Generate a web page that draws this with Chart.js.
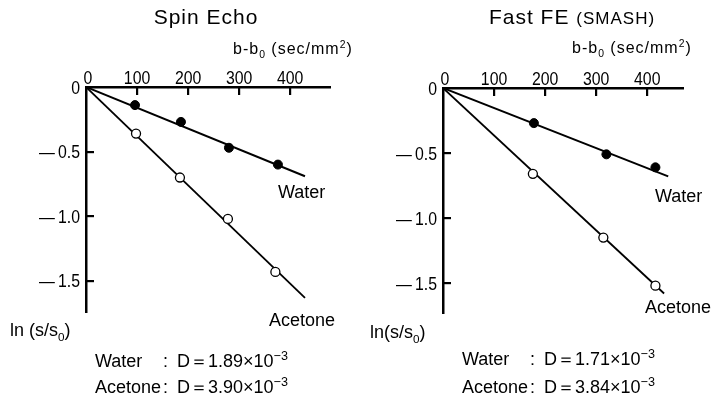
<!DOCTYPE html>
<html>
<head>
<meta charset="utf-8">
<script src="https://cdn.jsdelivr.net/npm/chart.js@4.4.0/dist/chart.umd.min.js"></script>
<style>
  body { margin: 0; background: #fff; }
  #wrap { position: relative; width: 718px; height: 407px; overflow: hidden;
          font-family: "Liberation Sans", Arial, sans-serif; color: #000; }
  canvas { position: absolute; top: 0; }
  .t { position: absolute; white-space: nowrap; line-height: 1; transform: translateY(-50%); }
  .c { transform: translate(-50%, -50%); }
  .title { font-size: 21px; letter-spacing: 1px; }
  .unit { font-size: 16px; letter-spacing: 1px; }
  .name { font-size: 18px; }
  .eq { font-size: 18px; }
  .eq .n { display: inline-block; width: 68px; }
  .eq .col { display: inline-block; width: 14px; }
  sub, sup { font-size: 65%; line-height: 0; }
  .eq sup { font-size: 70%; vertical-align: 0.55em; }
</style>
</head>
<body>
<div id="wrap">
  <canvas id="spinEcho" width="359" height="407" style="left:0"></canvas>
  <canvas id="fastFE" width="359" height="407" style="left:359px"></canvas>

  <div class="t c title" style="left:206px; top:16px">Spin Echo</div>
  <div class="t c title" style="left:572px; top:16px">Fast FE <span style="font-size:17px">(SMASH)</span></div>

  <div class="t unit" style="left:233px; top:49px">b-b<sub>0</sub> (sec/mm<sup>2</sup>)</div>
  <div class="t unit" style="left:572px; top:48px">b-b<sub>0</sub> (sec/mm<sup>2</sup>)</div>

  <div class="t name" style="left:278px; top:192px">Water</div>
  <div class="t name" style="left:269px; top:320px">Acetone</div>
  <div class="t name" style="left:655px; top:196px">Water</div>
  <div class="t name" style="left:645px; top:307px">Acetone</div>

  <div class="t name" style="left:10px; top:330px">ln (s/s<sub>0</sub>)</div>
  <div class="t name" style="left:370px; top:332px">ln(s/s<sub>0</sub>)</div>

  <div class="t eq" style="left:95px; top:361px"><span class="n">Water</span><span class="col">:</span>D＝1.89×10<sup>−3</sup></div>
  <div class="t eq" style="left:95px; top:387px"><span class="n">Acetone</span><span class="col">:</span>D＝3.90×10<sup>−3</sup></div>
  <div class="t eq" style="left:462px; top:359px"><span class="n">Water</span><span class="col">:</span>D＝1.71×10<sup>−3</sup></div>
  <div class="t eq" style="left:462px; top:387px"><span class="n">Acetone</span><span class="col">:</span>D＝3.84×10<sup>−3</sup></div>
</div>

<script>
const xTicks = [0, 100, 200, 300, 400];
const yTicks = [0, -0.5, -1.0, -1.5];

// Spin Echo (b-b0 in sec/mm2, ln(s/s0))
const seWaterB = [96, 186, 280, 376];
const seWaterLn = [-0.14, -0.27, -0.47, -0.60];
const seAcetoneB = [98, 184, 278, 371];
const seAcetoneLn = [-0.36, -0.70, -1.02, -1.43];
const seWaterFitB = [0, 429];
const seWaterFitLn = [0, -0.69];
const seAcetoneFitB = [0, 429];
const seAcetoneFitLn = [0, -1.63];

// Fast FE (SMASH)
const ffWaterB = [178, 320, 416];
const ffWaterLn = [-0.27, -0.51, -0.61];
const ffAcetoneB = [176, 314, 416];
const ffAcetoneLn = [-0.66, -1.15, -1.52];
const ffWaterFitB = [0, 441];
const ffWaterFitLn = [0, -0.68];
const ffAcetoneFitB = [0, 433];
const ffAcetoneFitLn = [0, -1.58];

const numFont = "18px 'Liberation Sans', Arial, sans-serif";

function pts(xs, ys) {
  return xs.map((x, i) => ({ x: x, y: ys[i] }));
}

function formatY(v) {
  if (v === 0) return '0';
  return '\u2014\u2009' + Math.abs(v).toFixed(1);
}

// squeezed text, the tick numbers in the figure are condensed
function narrowText(ctx, text, x, y, align) {
  ctx.save();
  ctx.translate(x, y);
  ctx.scale(0.88, 1.05);
  ctx.textAlign = align;
  ctx.fillText(text, 0, 0);
  ctx.restore();
}

// inward tick marks and tick labels, placed from the chart's own scales
const axisMarks = {
  id: 'axisMarks',
  afterDraw(chart) {
    const ctx = chart.ctx;
    const xs = chart.scales.x;
    const ys = chart.scales.y;
    const a = chart.chartArea;
    ctx.save();
    ctx.fillStyle = '#000';
    xTicks.forEach(v => {
      if (v === 0) return;
      const px = Math.round(xs.getPixelForValue(v));
      ctx.fillRect(px - 1, a.top, 2.2, 8);
    });
    yTicks.forEach(v => {
      if (v === 0) return;
      const py = Math.round(ys.getPixelForValue(v));
      ctx.fillRect(a.left, py - 1, 8, 2.2);
    });

    ctx.font = numFont;
    ctx.textBaseline = 'alphabetic';
    xTicks.forEach(v => {
      narrowText(ctx, String(v), xs.getPixelForValue(v) + (v === 0 ? 2 : 0), a.top - 3, 'center');
    });
    yTicks.forEach(v => {
      narrowText(ctx, formatY(v), a.left - 6, ys.getPixelForValue(v) + 6.5, 'right');
    });
    ctx.restore();
  }
};

function makePanel(id, p) {
  const ctx = document.getElementById(id).getContext('2d');
  return new Chart(ctx, {
    type: 'scatter',
    data: {
      datasets: [
        { label: 'Water', data: pts(p.wB, p.wLn), pointRadius: 4.5,
          pointBackgroundColor: '#000', pointBorderColor: '#000', pointBorderWidth: 1 },
        { label: 'Acetone', data: pts(p.aB, p.aLn), pointRadius: 4.5,
          pointBackgroundColor: '#fff', pointBorderColor: '#000', pointBorderWidth: 1.3 },
        { label: 'Water fit', data: pts(p.wfB, p.wfLn), showLine: true, pointRadius: 0,
          borderColor: '#000', borderWidth: 2 },
        { label: 'Acetone fit', data: pts(p.afB, p.afLn), showLine: true, pointRadius: 0,
          borderColor: '#000', borderWidth: 1.8 }
      ]
    },
    options: {
      responsive: false,
      animation: false,
      devicePixelRatio: 1,
      layout: { padding: p.pad },
      plugins: { legend: { display: false }, tooltip: { enabled: false } },
      scales: {
        x: {
          type: 'linear', position: 'top', min: 0, max: p.xMax,
          afterBuildTicks: s => { s.ticks = xTicks.map(v => ({ value: v })); },
          afterFit: s => { s.height = 30; },
          grid: { display: false },
          border: { display: true, color: '#000', width: 2.5 },
          ticks: { display: false }
        },
        y: {
          type: 'linear', min: p.yMin, max: 0,
          afterBuildTicks: s => { s.ticks = yTicks.map(v => ({ value: v })); },
          afterFit: s => { s.width = 40; },
          grid: { display: false },
          border: { display: true, color: '#000', width: 2.5 },
          ticks: { display: false }
        }
      }
    },
    plugins: [axisMarks]
  });
}

makePanel('spinEcho', {
  wB: seWaterB, wLn: seWaterLn, aB: seAcetoneB, aLn: seAcetoneLn,
  wfB: seWaterFitB, wfLn: seWaterFitLn, afB: seAcetoneFitB, afLn: seAcetoneFitLn,
  xMax: 478, yMin: -1.74,
  pad: { left: 46, top: 57, right: 29, bottom: 95 }
});

makePanel('fastFE', {
  wB: ffWaterB, wLn: ffWaterLn, aB: ffAcetoneB, aLn: ffAcetoneLn,
  wfB: ffWaterFitB, wfLn: ffWaterFitLn, afB: ffAcetoneFitB, afLn: ffAcetoneFitLn,
  xMax: 470, yMin: -1.73,
  pad: { left: 44, top: 58, right: 35, bottom: 94 }
});
</script>
</body>
</html>
